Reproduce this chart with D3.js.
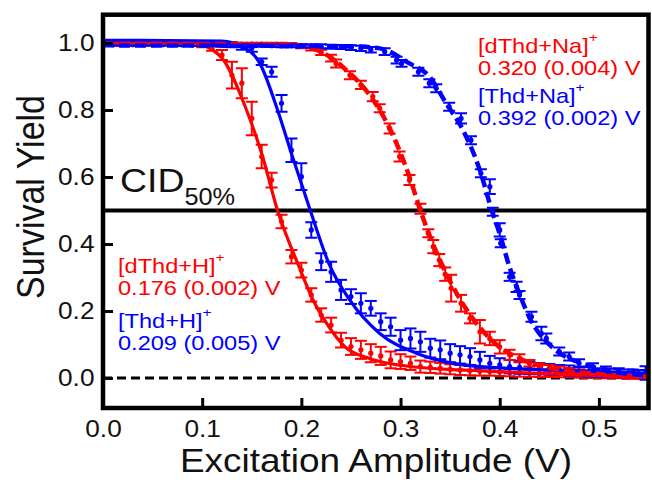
<!DOCTYPE html>
<html>
<head>
<meta charset="utf-8">
<script src="https://cdn.jsdelivr.net/npm/d3@7"></script>
<style>
  body { margin: 0; background: #fff; }
  svg text { font-family: "Liberation Sans", Arial, Helvetica, sans-serif; }
</style>
</head>
<body>
<svg id="chart" width="652" height="480"></svg>
<script>
// ---- measured survival yields (excitation amplitude in V) ----
const gridX = [0.00,0.01,0.02,0.03,0.04,0.05,0.06,0.07,0.08,0.09,0.10,0.11,0.12,0.13,0.14,0.15,0.16,0.17,0.18,0.19,
  0.20,0.21,0.22,0.23,0.24,0.25,0.26,0.27,0.28,0.29,0.30,0.31,0.32,0.33,0.34,0.35,0.36,0.37,0.38,0.39,
  0.40,0.41,0.42,0.43,0.44,0.45,0.46,0.47,0.48,0.49,0.50,0.51,0.52,0.53,0.54,0.55];

// [dThd+H]+
const dThdH_x = gridX;
const dThdH_y = [1.000,1.000,1.000,1.000,1.000,0.999,0.999,0.998,0.998,0.996,0.993,0.985,0.964,0.904,0.880,0.775,0.661,0.591,0.467,0.362,
  0.322,0.248,0.188,0.158,0.113,0.094,0.084,0.074,0.066,0.054,0.049,0.044,0.034,0.032,0.029,0.026,0.024,0.022,0.020,0.019,
  0.018,0.016,0.015,0.014,0.013,0.012,0.011,0.010,0.009,0.008,0.007,0.006,0.005,0.004,0.004,0.003];
const dThdH_err = [0.004,0.004,0.004,0.004,0.004,0.004,0.004,0.004,0.005,0.005,0.006,0.008,0.015,0.040,0.045,0.050,0.035,0.022,0.020,0.020,
  0.022,0.020,0.020,0.022,0.022,0.025,0.027,0.027,0.027,0.025,0.022,0.020,0.018,0.017,0.016,0.015,0.015,0.014,0.013,0.012,
  0.012,0.011,0.011,0.010,0.010,0.009,0.009,0.008,0.008,0.008,0.007,0.007,0.006,0.006,0.006,0.006];

// [Thd+H]+
const ThdH_x = gridX;
const ThdH_y = [1.002,1.002,1.002,1.001,1.001,1.001,1.001,1.000,1.000,1.000,1.000,1.000,0.998,0.995,0.990,0.984,0.944,0.914,0.820,0.680,
  0.601,0.442,0.347,0.317,0.263,0.243,0.223,0.208,0.168,0.153,0.113,0.118,0.108,0.089,0.084,0.074,0.069,0.064,0.054,0.044,
  0.039,0.034,0.032,0.030,0.028,0.026,0.024,0.022,0.020,0.018,0.016,0.015,0.014,0.013,0.012,0.012];
const ThdH_err = [0.004,0.004,0.004,0.004,0.004,0.004,0.004,0.004,0.004,0.005,0.005,0.005,0.006,0.008,0.010,0.010,0.010,0.015,0.025,0.035,
  0.040,0.023,0.025,0.030,0.030,0.022,0.030,0.022,0.025,0.027,0.030,0.030,0.030,0.028,0.028,0.027,0.026,0.025,0.024,0.022,
  0.020,0.020,0.019,0.018,0.017,0.016,0.015,0.015,0.014,0.014,0.013,0.013,0.012,0.012,0.012,0.012];

// [dThd+Na]+
const dThdNa_x = [0.00,0.01,0.02,0.03,0.04,0.05,0.06,0.07,0.08,0.09,0.10,0.11,0.12,0.13,0.14,0.15,0.16,0.17,0.18,0.19,
  0.20,0.21,0.22,0.23,0.235,0.249,0.26,0.272,0.279,0.289,0.299,0.309,0.32,0.328,0.333,0.339,0.345,0.351,0.361,0.37,
  0.38,0.39,0.40,0.41,0.42,0.43,0.44,0.45,0.46,0.47,0.48,0.49,0.50,0.51,0.52,0.53,0.54,0.55];
const dThdNa_y = [1.000,1.000,1.000,1.000,1.000,1.000,0.999,0.999,0.999,0.999,0.999,0.998,0.998,0.998,0.997,0.997,0.997,0.996,0.996,0.995,
  0.990,0.985,0.972,0.955,0.939,0.904,0.875,0.840,0.805,0.745,0.661,0.591,0.505,0.432,0.392,0.352,0.310,0.268,0.223,0.178,
  0.138,0.118,0.093,0.069,0.059,0.044,0.034,0.030,0.026,0.022,0.018,0.015,0.012,0.010,0.008,0.006,0.005,0.004];
const dThdNa_err = [0.003,0.003,0.003,0.003,0.003,0.003,0.003,0.003,0.003,0.003,0.003,0.004,0.004,0.004,0.004,0.004,0.004,0.005,0.005,0.005,
  0.006,0.007,0.008,0.010,0.012,0.012,0.012,0.014,0.012,0.015,0.015,0.015,0.015,0.012,0.020,0.018,0.020,0.040,0.025,0.015,
  0.035,0.020,0.020,0.015,0.012,0.010,0.010,0.009,0.008,0.008,0.007,0.007,0.006,0.006,0.006,0.005,0.005,0.005];

// [Thd+Na]+
const ThdNa_x = [0.00,0.01,0.02,0.03,0.04,0.05,0.06,0.07,0.08,0.09,0.10,0.11,0.12,0.13,0.14,0.15,0.16,0.17,0.18,0.19,
  0.20,0.21,0.22,0.23,0.24,0.25,0.26,0.27,0.284,0.296,0.301,0.318,0.329,0.336,0.349,0.361,0.371,0.381,0.39,0.393,
  0.40,0.401,0.41,0.417,0.42,0.432,0.442,0.447,0.46,0.47,0.48,0.494,0.507,0.52,0.534,0.547];
const ThdNa_y = [0.995,0.995,0.995,0.995,0.995,0.995,0.995,0.995,0.994,0.994,0.994,0.994,0.994,0.993,0.993,0.993,0.993,0.992,0.992,0.992,
  0.991,0.991,0.990,0.989,0.988,0.986,0.984,0.980,0.974,0.949,0.939,0.914,0.880,0.865,0.810,0.775,0.710,0.611,0.571,0.496,
  0.442,0.402,0.302,0.272,0.248,0.183,0.133,0.118,0.079,0.064,0.044,0.034,0.024,0.019,0.015,0.015];
const ThdNa_err = [0.003,0.003,0.003,0.003,0.003,0.003,0.003,0.003,0.003,0.003,0.003,0.003,0.003,0.004,0.004,0.004,0.004,0.004,0.005,0.005,
  0.005,0.005,0.006,0.006,0.006,0.007,0.008,0.008,0.010,0.010,0.010,0.012,0.012,0.012,0.012,0.015,0.012,0.012,0.022,0.012,
  0.020,0.012,0.012,0.015,0.012,0.015,0.020,0.015,0.012,0.012,0.012,0.010,0.010,0.010,0.010,0.020];

// ---- fitted sigmoid traces (CID50 values from the fits) ----
const cid50_dThdH = 0.176, cid50_ThdH = 0.209, cid50_dThdNa = 0.320, cid50_ThdNa = 0.392;

const fit_dThdH = [[0,1.0],[0.08,1.0],[0.095,0.998],[0.11,0.98],[0.12,0.955],[0.1447,0.80],[0.16,0.67],[cid50_dThdH,0.5],
  [0.1977,0.332],[0.2118,0.233],[0.225,0.165],[0.2437,0.0935],[0.27,0.057],[0.30,0.038],[0.36,0.024],[0.40,0.019],[0.47,0.010],[0.55,0.003]];
const fit_ThdH = [[0,1.008],[0.12,1.006],[0.14,0.99],[0.158,0.94],[0.176,0.80],[0.19,0.67],[cid50_ThdH,0.5],
  [0.228,0.34],[0.2487,0.233],[0.279,0.133],[0.316,0.074],[0.349,0.046],[0.40,0.030],[0.45,0.024],[0.55,0.014]];
const fit_dThdNa = [[0,0.998],[0.17,0.996],[0.20,0.99],[0.215,0.98],[0.2286,0.959],[0.245,0.92],[0.262,0.87],[0.279,0.80],
  [0.296,0.70],[0.309,0.60],[cid50_dThdNa,0.5],[0.33,0.42],[0.34,0.35],[0.36,0.235],[0.38,0.15],[0.40,0.092],[0.42,0.058],
  [0.45,0.030],[0.50,0.012],[0.55,0.004]];
const fit_ThdNa = [[0,0.993],[0.25,0.99],[0.279,0.984],[0.309,0.939],[0.329,0.90],[0.346,0.82],[0.363,0.74],[0.38,0.62],
  [cid50_ThdNa,0.5],[0.40,0.43],[0.41,0.33],[0.42,0.25],[0.43,0.18],[0.45,0.10],[0.47,0.058],[0.487,0.040],[0.50,0.027],[0.55,0.008]];

// ---- axis ticks ----
const xTicks = [0.0,0.1,0.2,0.3,0.4,0.5];
const yTicks = [0.0,0.2,0.4,0.6,0.8,1.0];

const RED = "#ff0000", BLUE = "#0000ff", INK = "#111";

const svg = d3.select("#chart");
const pLeft = 103, pRight = 648.5, pTop = 14.7, pBottom = 408;
const x = d3.scaleLinear().domain([0, 0.55]).range([pLeft, pRight]);
const y = d3.scaleLinear().domain([-0.0896, 1.0845]).range([pBottom, pTop]);

svg.append("defs").append("clipPath").attr("id", "plotclip")
  .append("rect").attr("x", pLeft).attr("y", pTop).attr("width", pRight - pLeft).attr("height", pBottom - pTop);

const plot = svg.append("g").attr("clip-path", "url(#plotclip)");

// reference lines: zero baseline (dashed) and 50 % survival
plot.append("line").attr("x1", pLeft).attr("x2", pRight).attr("y1", y(0)).attr("y2", y(0))
  .attr("stroke", "#000").attr("stroke-width", 3).attr("stroke-dasharray", "9,5");
plot.append("line").attr("x1", pLeft).attr("x2", pRight).attr("y1", y(0.5)).attr("y2", y(0.5))
  .attr("stroke", "#000").attr("stroke-width", 4);

function drawPoints(xs, ys, es, color) {
  const data = xs.map((v, i) => ({ v, s: ys[i], e: es[i] }));
  const g = plot.append("g").attr("stroke", color).attr("fill", color);
  const cap = 6;
  g.selectAll("line.eb").data(data).join("line").attr("class", "eb")
    .attr("x1", d => x(d.v)).attr("x2", d => x(d.v))
    .attr("y1", d => y(d.s - d.e)).attr("y2", d => y(d.s + d.e)).attr("stroke-width", 2);
  g.selectAll("line.ct").data(data).join("line").attr("class", "ct")
    .attr("x1", d => x(d.v) - cap).attr("x2", d => x(d.v) + cap)
    .attr("y1", d => y(d.s + d.e)).attr("y2", d => y(d.s + d.e)).attr("stroke-width", 2);
  g.selectAll("line.cb").data(data).join("line").attr("class", "cb")
    .attr("x1", d => x(d.v) - cap).attr("x2", d => x(d.v) + cap)
    .attr("y1", d => y(d.s - d.e)).attr("y2", d => y(d.s - d.e)).attr("stroke-width", 2);
  g.selectAll("circle").data(data).join("circle")
    .attr("cx", d => x(d.v)).attr("cy", d => y(d.s)).attr("r", 2.6).attr("stroke", "none");
}

drawPoints(dThdH_x, dThdH_y, dThdH_err, RED);
drawPoints(ThdH_x, ThdH_y, ThdH_err, BLUE);
drawPoints(dThdNa_x, dThdNa_y, dThdNa_err, RED);
drawPoints(ThdNa_x, ThdNa_y, ThdNa_err, BLUE);

const line = d3.line().x(d => x(d[0])).y(d => y(d[1])).curve(d3.curveMonotoneX);
function drawFit(pts, color, dashed) {
  plot.append("path").datum(pts).attr("d", line).attr("fill", "none")
    .attr("stroke", color).attr("stroke-width", dashed ? 4.5 : 3.2)
    .attr("stroke-dasharray", dashed ? "11,5" : null);
}
drawFit(fit_dThdH, RED, false);
drawFit(fit_ThdH, BLUE, false);
drawFit(fit_dThdNa, RED, true);
drawFit(fit_ThdNa, BLUE, true);

// ---- axes (inward ticks) ----
const TICK_SX = 1.14;
const xAxis = svg.append("g").attr("transform", `translate(0,${pBottom})`)
  .call(d3.axisBottom(x).tickValues(xTicks).tickFormat(d3.format(".1f")).tickSizeInner(-10).tickSizeOuter(0).tickPadding(12.4));
const yAxis = svg.append("g").attr("transform", `translate(${pLeft},0)`)
  .call(d3.axisLeft(y).tickValues(yTicks).tickFormat(d3.format(".1f")).tickSizeInner(-10).tickSizeOuter(0).tickPadding(7.5));
[xAxis, yAxis].forEach(a => {
  a.select(".domain").remove();
  a.selectAll(".tick line").attr("stroke", "#000").attr("stroke-width", 3);
  a.selectAll(".tick text").attr("font-size", 23).attr("fill", INK)
    .attr("font-family", '"Liberation Sans", Arial, sans-serif')
    .attr("transform", `scale(${TICK_SX},1)`);
});

// frame
svg.append("rect").attr("x", pLeft).attr("y", pTop).attr("width", pRight - pLeft).attr("height", pBottom - pTop)
  .attr("fill", "none").attr("stroke", "#000").attr("stroke-width", 4.5);

// ---- axis titles ----
svg.append("text").attr("transform", `translate(376,471.5) scale(1.12,1)`)
  .attr("text-anchor", "middle").attr("font-size", 33).attr("fill", INK)
  .text("Excitation Amplitude (V)");
svg.append("text").attr("transform", `translate(43.5,197) scale(1.12,1) rotate(-90)`)
  .attr("text-anchor", "middle").attr("font-size", 34).attr("fill", INK)
  .text("Survival Yield");

// CID50% marker label
const cid = svg.append("text").attr("transform", `translate(120,192) scale(1.1,1)`)
  .attr("font-size", 34).attr("fill", INK);
cid.append("tspan").text("CID");
cid.append("tspan").attr("dy", 13).attr("font-size", 23).text("50%");

// ---- ion labels with CID50 values ----
function ionLabel(xp, yp, ion, value, err, color) {
  const g = svg.append("g").attr("transform", `translate(${xp},${yp}) scale(1.15,1)`).attr("fill", color);
  const t = g.append("text").attr("font-size", 20.5);
  t.append("tspan").text(ion);
  t.append("tspan").attr("dy", -11).attr("font-size", 13.5).text("+");
  g.append("text").attr("y", 22.5).attr("font-size", 20.5)
    .text(`${value.toFixed(3)} (${err.toFixed(3)}) V`);
}
ionLabel(478, 53, "[dThd+Na]", cid50_dThdNa, 0.004, RED);
ionLabel(478, 103, "[Thd+Na]", cid50_ThdNa, 0.002, BLUE);
ionLabel(118, 273, "[dThd+H]", cid50_dThdH, 0.002, RED);
ionLabel(118, 328, "[Thd+H]", cid50_ThdH, 0.005, BLUE);
</script>
</body>
</html>
